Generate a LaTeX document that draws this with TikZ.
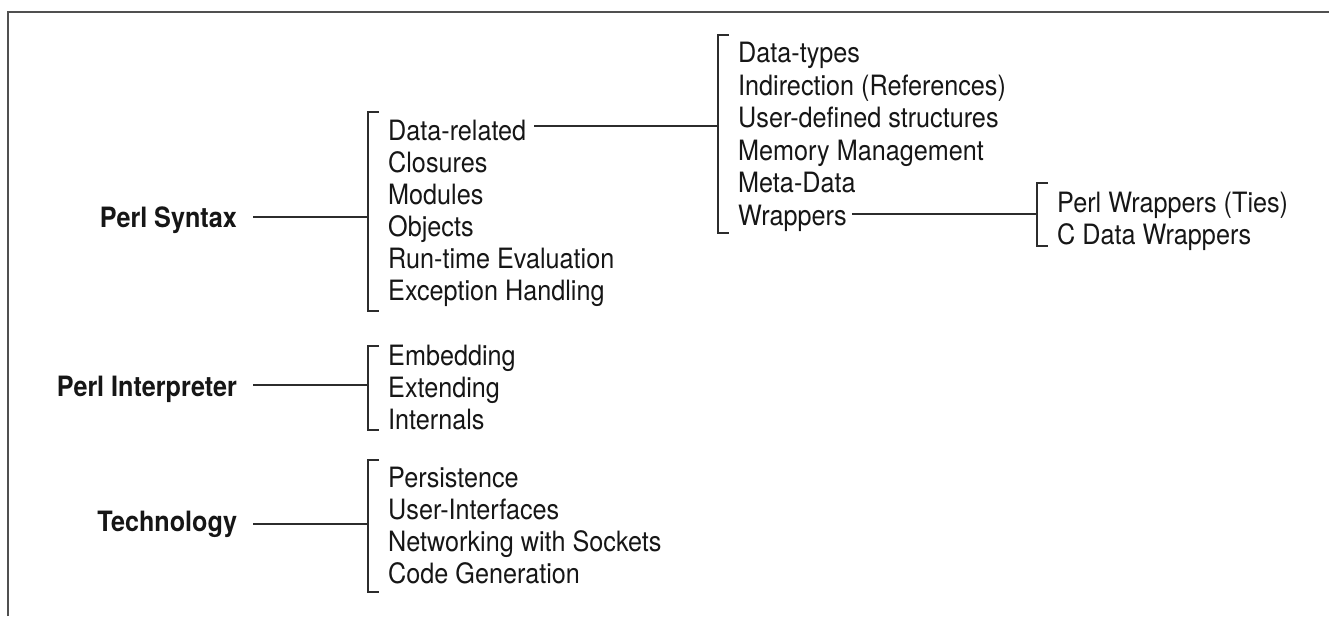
\documentclass[tikz,border=0pt]{standalone}
\usepackage{fontspec}
\setmainfont{TeX Gyre Heros}[FakeStretch=0.9]
\definecolor{ink}{HTML}{161616}
\definecolor{wirecol}{HTML}{2C2C2C}
\definecolor{framecol}{HTML}{505050}
\begin{document}
\begin{tikzpicture}[x=1pt,y=-1pt,
  item/.style={anchor=base west, inner sep=0pt, text=ink,
               font=\fontsize{28}{32}\selectfont},
  root/.style={anchor=base east, inner sep=0pt, outer xsep=16pt, text=ink,
               font=\bfseries\fontsize{28}{32}\selectfont},
  wire/.style={line width=1.7pt, draw=wirecol},
  bracket/.style={line width=1.9pt, draw=wirecol, line cap=butt}]
\useasboundingbox (0,0) rectangle (1329,616);

% partial frame: top and left edges
\draw[framecol, line width=2.6pt] (8,616) -- (8,12) -- (1329,12);

% ---------- Perl Syntax ----------
\node[root] (syn) at (253,227) {Perl Syntax};
\draw[bracket] (379,112) -- (368,112) -- (368,311) -- (379,311);
\coordinate (j1) at (368,217);
\draw[wire] (syn.east |- j1) -- (j1);

\node[item] (dr)  at (388,140.5) {Data-related};
\node[item] (clo) at (388,172.5) {Closures};
\node[item] (mod) at (388,204.5) {Modules};
\node[item] (obj) at (388,236.5) {Objects};
\node[item] (rte) at (388,268.5) {Run-time Evaluation};
\node[item] (exc) at (388,300.5) {Exception Handling};

% Data-related sub-list
\draw[bracket] (729,35) -- (718,35) -- (718,233) -- (729,233);
\coordinate (j2) at (718,126);
\draw[wire] (dr.east |- j2) ++(8,0) -- (j2);

\node[item] (dt)  at (738,62.5)  {Data-types};
\node[item] (ind) at (738,95)    {Indirection (References)};
\node[item] (uds) at (738,127.5) {User-defined structures};
\node[item] (mem) at (738,160)   {Memory Management};
\node[item] (md)  at (738,192.5) {Meta-Data};
\node[item] (wr)  at (738,225)   {Wrappers};

% Wrappers sub-list
\draw[bracket] (1048,183) -- (1037,183) -- (1037,246) -- (1048,246);
\coordinate (j3) at (1037,214);
\draw[wire] (wr.east |- j3) ++(5,0) -- (j3);

\node[item] (pw) at (1057,212) {Perl Wrappers (Ties)};
\node[item] (cw) at (1057,244) {C Data Wrappers};

% ---------- Perl Interpreter ----------
\node[root] (int) at (253,396) {Perl Interpreter};
\draw[bracket] (379,346) -- (368,346) -- (368,430) -- (379,430);
\coordinate (j4) at (368,385);
\draw[wire] (int.east |- j4) -- (j4);

\node[item] (emb) at (388,365) {Embedding};
\node[item] (ext) at (388,397) {Extending};
\node[item] (inl) at (388,429) {Internals};

% ---------- Technology ----------
\node[root] (tec) at (253,531) {Technology};
\draw[bracket] (379,460) -- (368,460) -- (368,592) -- (379,592);
\coordinate (j5) at (368,524);
\draw[wire] (tec.east |- j5) -- (j5);

\node[item] (per) at (388,487) {Persistence};
\node[item] (ui)  at (388,519) {User-Interfaces};
\node[item] (net) at (388,551) {Networking with Sockets};
\node[item] (cg)  at (388,583) {Code Generation};
\end{tikzpicture}
\end{document}
